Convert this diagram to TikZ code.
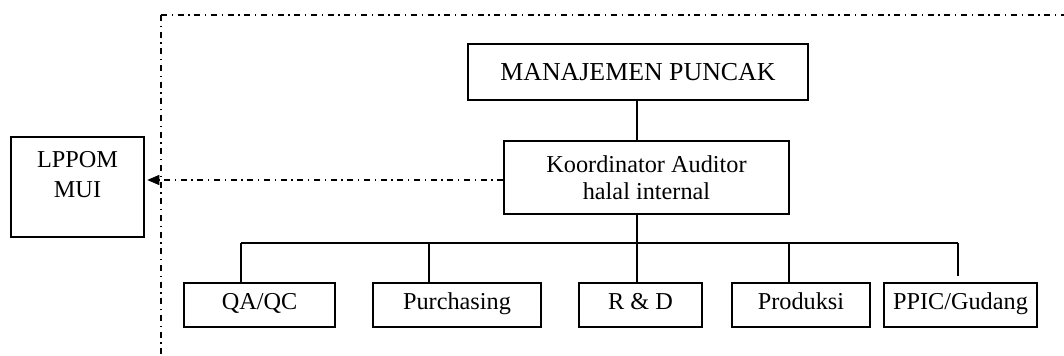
\documentclass[tikz,border=0pt]{standalone}
\usepackage{fontspec}
\setmainfont{Liberation Serif}
\usepackage{tikz}
\usetikzlibrary{arrows.meta,positioning}

\begin{document}
\begin{tikzpicture}[x=0.75pt,y=-0.75pt,
  unitbox/.style={draw,line width=0.9pt,inner sep=0pt,font=\fontsize{18.2}{20.25}\selectfont,align=center},
  dept/.style={unitbox,minimum height=33pt,text height=13pt,text depth=7pt},
  tree/.style={line width=0.9pt},
  dashdot/.style={line width=0.9pt,dash pattern=on 4.5pt off 3.5pt on 1pt off 3.5pt}]
\useasboundingbox (0,0) rectangle (1064,356);
% garis batas organisasi
\coordinate (corner) at (161,15);
\draw[dashdot] (corner) -- (1064,15);
\draw[dashdot] (corner) -- (161,356);
% kotak
\node[unitbox,minimum width=255pt,minimum height=42pt,font=\fontsize{19.4}{22}\selectfont] (manajemen) at (638,72) {MANAJEMEN PUNCAK};
\node[unitbox,minimum width=213.75pt,minimum height=54.75pt] (koord) at (646.5,177.5) {Koordinator Auditor\\halal internal};
\node[unitbox,minimum width=99.75pt,minimum height=75pt,
  label={[anchor=north,align=center,yshift=-7.5pt,font=\fontsize{18.2}{22.5}\selectfont]north:LPPOM\\MUI}] (lppom) at (77.5,187) {};
\node[dept,minimum width=113.25pt] (qaqc) at (259.5,305) {QA/QC};
\node[dept,minimum width=126pt] (purch) at (457,305) {Purchasing};
\node[dept,minimum width=92.25pt] (rnd) at (640.5,305) {R \& D};
\node[dept,minimum width=103.5pt] (produksi) at (801,305) {Produksi};
\node[dept,minimum width=114.75pt] (ppic) at (960.5,305) {PPIC/Gudang};
% garis
\coordinate (trunk) at (637,243);
\coordinate (b1) at (241,243);
\coordinate (b2) at (429,243);
\coordinate (b4) at (789,243);
\coordinate (b5) at (958,243);
\draw[tree] (manajemen.south -| trunk) -- (koord.north -| trunk);
\draw[tree] (koord.south -| trunk) -- (rnd.north -| trunk);
\draw[tree] (b1) -- (b5);
\draw[tree] (b1) -- (b1 |- qaqc.north);
\draw[tree] (b2) -- (b2 |- purch.north);
\draw[tree] (b4) -- (b4 |- produksi.north);
\draw[tree] (b5) -- ([yshift=5pt]b5 |- ppic.north);
\draw[dashdot,-{Triangle[length=9pt,width=7.5pt]},shorten >=2pt] (koord.west |- 0,180) -- (lppom.east |- 0,180);
\end{tikzpicture}
\end{document}
